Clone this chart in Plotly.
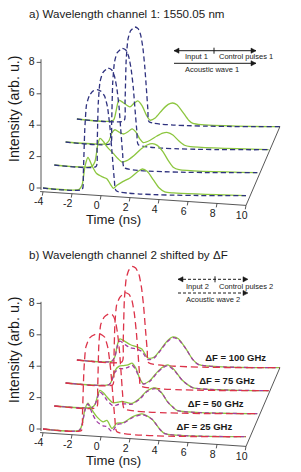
import plotly.graph_objects as go

# ---------------- data ----------------
time_ticks = [-4, -2, 0, 2, 4, 6, 8, 10]
intensity_ticks = [0, 2, 4, 6, 8]
df_labels = ["ΔF = 25 GHz", "ΔF = 50 GHz", "ΔF = 75 GHz", "ΔF = 100 GHz"]

# Panel a: control pulses (navy dashed), rows front -> back
ctrl_a_t = [
    [-4, -1.3, -1.22, -1.12, -1.0, -0.8, -0.55, -0.28, 0.0, 0.25, 0.45, 0.62, 0.78, 0.92, 1.05, 10],
    [-4, -1.12, -1.05, -0.97, -0.85, -0.65, -0.3, -0.05, 0.15, 0.32, 0.47, 0.6, 0.72, 0.82, 10],
    [-4, -0.9, -0.83, -0.75, -0.63, -0.45, -0.1, 0.15, 0.35, 0.52, 0.67, 0.8, 0.92, 1.02, 10],
    [-4, -0.75, -0.68, -0.6, -0.48, -0.3, 0.0, 0.22, 0.4, 0.55, 0.68, 0.8, 0.9, 0.98, 10],
]
ctrl_a_i = [
    [0, 0, 1.0, 3.8, 5.4, 6.0, 6.3, 6.4, 6.3, 6.0, 5.3, 4.0, 2.2, 0.7, 0, 0],
    [0, 0, 1.2, 4.0, 5.4, 6.0, 6.3, 6.2, 5.8, 5.0, 3.8, 2.2, 0.8, 0, 0],
    [0, 0, 1.2, 3.9, 5.2, 5.8, 6.1, 6.0, 5.6, 4.8, 3.6, 2.1, 0.8, 0, 0],
    [0, 0, 1.2, 3.9, 5.2, 5.75, 6.0, 5.9, 5.5, 4.7, 3.5, 2.0, 0.7, 0, 0],
]
# Panel a: signal (green solid)
sig_a_t = [
    [-4, -1.5, -1.3, -1.1, -0.9, -0.6, -0.3, 0.1, 0.4, 0.65, 0.85, 1.1, 1.5, 2.0, 2.5, 2.85, 3.2, 3.6, 4.0, 4.4, 5, 10],
    [-4, -1.4, -1.2, -1.0, -0.85, -0.6, -0.36, 0.05, 0.4, 0.67, 1.0, 1.5, 2.0, 2.4, 2.76, 3.1, 3.5, 3.9, 4.2, 4.6, 10],
    [-4, -1.2, -1.0, -0.8, -0.6, -0.3, 0.0, 0.3, 0.58, 0.85, 1.1, 1.35, 1.8, 2.3, 2.7, 3.05, 3.4, 3.8, 4.2, 4.6, 10],
    [-4, -1.5, -1.3, -1.1, -0.8, -0.35, -0.05, 0.2, 0.5, 0.8, 1.05, 1.4, 1.9, 2.3, 2.6, 2.9, 3.3, 3.7, 4.0, 10],
]
sig_a_i = [
    [0, 0, 0.3, 1.5, 2.05, 1.5, 1.05, 0.85, 0.75, 0.4, 0.15, 0.35, 0.6, 0.85, 1.25, 1.45, 1.3, 0.8, 0.3, 0.05, 0, 0],
    [0, 0, 0.3, 1.4, 1.8, 1.6, 1.28, 0.9, 0.55, 0.35, 0.45, 0.8, 1.25, 1.5, 1.6, 1.5, 1.1, 0.5, 0.15, 0, 0],
    [0, 0, 0.2, 0.7, 0.9, 0.75, 0.65, 0.8, 1.0, 0.8, 0.4, 0.15, 0.3, 0.6, 0.8, 0.85, 0.7, 0.35, 0.08, 0, 0],
    [0, 0, 0.6, 1.3, 1.15, 0.9, 1.15, 1.3, 1.0, 0.4, 0.1, 0.25, 0.8, 1.15, 1.25, 1.15, 0.7, 0.2, 0, 0],
]

# Panel b: control pulses (red dashed)
ctrl_b_t = [
    [-4, -1.35, -1.28, -1.18, -1.05, -0.8, -0.4, -0.07, 0.25, 0.48, 0.66, 0.82, 0.96, 1.1, 10],
    [-4, -1.08, -1.01, -0.93, -0.8, -0.55, -0.25, 0.0, 0.2, 0.36, 0.5, 0.62, 0.72, 0.82, 10],
    [-4, -0.75, -0.68, -0.6, -0.48, -0.25, 0.1, 0.38, 0.58, 0.74, 0.88, 1.0, 1.1, 1.18, 10],
    [-4, -0.88, -0.81, -0.73, -0.6, -0.42, -0.2, 0.05, 0.28, 0.45, 0.6, 0.73, 0.85, 0.95, 10],
]
ctrl_b_i = [
    [0, 0, 1.0, 3.8, 5.3, 5.9, 6.15, 6.2, 6.0, 5.3, 4.0, 2.3, 0.8, 0, 0],
    [0, 0, 1.2, 4.0, 5.3, 5.8, 6.0, 5.95, 5.6, 4.8, 3.6, 2.1, 0.8, 0, 0],
    [0, 0, 1.2, 3.9, 5.1, 5.6, 5.9, 5.8, 5.4, 4.6, 3.4, 2.0, 0.7, 0, 0],
    [0, 0, 1.2, 3.9, 5.3, 5.85, 6.1, 6.0, 5.6, 4.8, 3.6, 2.1, 0.8, 0, 0],
]
# Panel b: signal measured (green solid) and reference (purple dashed)
sig_b_t = [
    [-4, -1.5, -1.3, -1.1, -0.9, -0.6, -0.28, 0.14, 0.41, 0.76, 1.1, 1.52, 2.2, 2.83, 3.5, 4.07, 4.4, 10],
    [-4, -1.4, -1.19, -1.0, -0.85, -0.6, -0.37, 0.05, 0.4, 0.67, 1.0, 1.36, 1.9, 2.4, 2.94, 3.4, 3.8, 4.19, 4.5, 10],
    [-4, -1.0, -0.8, -0.6, -0.3, 0.0, 0.3, 0.58, 0.85, 1.1, 1.35, 1.8, 2.3, 2.7, 3.06, 3.5, 4.0, 4.4, 4.8, 10],
    [-4, -1.6, -1.38, -1.2, -1.03, -0.69, -0.3, 0.1, 0.48, 0.9, 1.3, 1.8, 2.2, 2.62, 3.0, 3.5, 4.0, 4.4, 10],
]
green_b_i = [
    [0, 0, 0.4, 1.4, 1.76, 1.3, 0.9, 0.6, 0.7, 0.2, 0.55, 0.6, 1.0, 1.2, 0.9, 0.25, 0, 0],
    [0, 0, 0.2, 0.8, 1.1, 0.95, 0.7, 0.35, 0.4, 0.45, 0.4, 0.35, 0.7, 1.2, 1.4, 1.1, 0.55, 0.2, 0, 0],
    [0, 0, 0.3, 0.9, 1.2, 1.25, 1.3, 1.43, 1.1, 0.5, 0.15, 0.35, 0.9, 1.25, 1.4, 1.1, 0.5, 0.2, 0, 0],
    [0, 0, 0.3, 1.1, 1.45, 1.3, 1.1, 1.0, 0.85, 0.3, 0.35, 0.9, 1.4, 1.7, 1.6, 1.0, 0.3, 0, 0],
]
purple_b_i = [
    [0, 0, 0.4, 1.3, 1.7, 1.1, 0.6, 0.35, 0.3, 0.0, 0.45, 0.55, 0.95, 1.15, 0.9, 0.25, 0, 0],
    [0, 0, 0.2, 0.7, 1.0, 0.8, 0.5, 0.15, 0.25, 0.3, 0.3, 0.3, 0.65, 1.15, 1.35, 1.1, 0.55, 0.2, 0, 0],
    [0, 0, 0.3, 0.8, 1.05, 1.05, 1.15, 1.3, 1.0, 0.45, 0.12, 0.3, 0.85, 1.2, 1.35, 1.05, 0.5, 0.2, 0, 0],
    [0, 0, 0.3, 1.0, 1.3, 1.1, 0.9, 0.85, 0.7, 0.2, 0.3, 0.85, 1.35, 1.65, 1.55, 1.0, 0.3, 0, 0],
]

# ---------------- styling / geometry ----------------
W, H = 301, 472
NAVY = "#2f327f"
GREEN = "#8cc63f"
RED = "#dc3349"
PURPLE = "#a23ea4"
INK = "#1a1a1a"
FONT = "Liberation Sans, Arial, sans-serif"

PX_NS = 14.5          # horizontal pixels per ns
PX_U = 15.7           # vertical pixels per intensity unit
DX = 11.3 / PX_NS     # depth offset per row (ns)
DY = 23.0 / PX_U      # depth offset per row (intensity)
SHEAR = 0.55 / PX_U   # baseline slope per ns
AX_Y0 = -0.24         # time-axis offset below row 0
AX_SLOPE = 0.062
YAX_T = -4 - 2.0 / PX_NS

X_RANGE = [-4 - 43 / PX_NS, -4 + (W - 43) / PX_NS]


def proj(t, v, k):
    return t + k * DX, v + k * DY - SHEAR * (t + 4)


def axis_y(t):
    return AX_Y0 - AX_SLOPE * (t + 4)


fig = go.Figure()

panels = [
    dict(xa="x", ya="y", ctrl_t=ctrl_a_t, ctrl_i=ctrl_a_i, ctrl_col=NAVY, ctrl_dash="5px,3px",
         sigs=[(sig_a_t, sig_a_i, GREEN, "solid")], labels=None, zero=188, ytop=8.2),
    dict(xa="x2", ya="y2", ctrl_t=ctrl_b_t, ctrl_i=ctrl_b_i, ctrl_col=RED, ctrl_dash="7px,4px",
         sigs=[(sig_b_t, green_b_i, GREEN, "solid"), (sig_b_t, purple_b_i, PURPLE, "4px,3px")],
         labels=df_labels, zero=429, ytop=8.1),
]


def line(fig, xs, ys, p, color, width=1.3, dash="solid", shape="linear", smoothing=0.7):
    fig.add_trace(go.Scatter(x=xs, y=ys, xaxis=p["xa"], yaxis=p["ya"], mode="lines",
                             line=dict(color=color, width=width, dash=dash, shape=shape,
                                       smoothing=smoothing),
                             hoverinfo="skip", showlegend=False))


def text(fig, xs, ys, labels, p, pos, size=10.5, color=INK, bold=False):
    fig.add_trace(go.Scatter(x=xs, y=ys, xaxis=p["xa"], yaxis=p["ya"], mode="text", text=labels,
                             textposition=pos, cliponaxis=False,
                             textfont=dict(size=size, color=color, family=FONT,
                                           weight="bold" if bold else "normal"),
                             hoverinfo="skip", showlegend=False))


for p in panels:
    for k in range(3, -1, -1):
        for (tt, ii, col, dash) in p["sigs"]:
            xs, ys = zip(*[proj(t, v, k) for t, v in zip(tt[k], ii[k])])
            line(fig, xs, ys, p, col, width=1.3, dash=dash, shape="spline")
        xs, ys = zip(*[proj(t, v, k) for t, v in zip(p["ctrl_t"][k], p["ctrl_i"][k])])
        line(fig, xs, ys, p, p["ctrl_col"], width=1.3, dash=p["ctrl_dash"], shape="spline",
             smoothing=0.5)
        if p["labels"]:
            lx, ly = proj(9.05, 0.55, k)
            text(fig, [lx], [ly], [p["labels"][k]], p, "middle left", size=9.5, bold=True)

    # y axis
    line(fig, [YAX_T, YAX_T], [-0.13, p["ytop"]], p, "#444", width=0.9)
    for v in intensity_ticks:
        line(fig, [YAX_T - 0.3, YAX_T], [v, v], p, "#444", width=0.9)
    text(fig, [YAX_T - 0.45] * len(intensity_ticks), intensity_ticks,
         [str(v) for v in intensity_ticks], p, "middle left", size=10.5)
    # slanted time axis
    line(fig, [-4.2, 10], [axis_y(-4.2), axis_y(10)], p, "#444", width=0.9)
    for t in time_ticks:
        line(fig, [t, t - 0.05], [axis_y(t), axis_y(t) - 0.25], p, "#444", width=0.9)
    text(fig, [t - 0.3 for t in time_ticks], [axis_y(t) - 0.68 for t in time_ticks],
         [str(t) for t in time_ticks], p, "middle center", size=10.5)
    # depth edge at t = 10
    ex, ey = proj(10, 0, 3)
    line(fig, [10, ex], [axis_y(10), ey], p, "#444", width=0.9)

# ---------------- layout ----------------
ax_common = dict(visible=False, fixedrange=True)
fig.update_layout(
    width=W, height=H, margin=dict(l=0, r=0, t=0, b=0),
    paper_bgcolor="white", plot_bgcolor="rgba(0,0,0,0)",
    font=dict(family=FONT, color=INK),
    xaxis=dict(domain=[0, 1], range=X_RANGE, anchor="y", **ax_common),
    yaxis=dict(domain=[0.5, 1], range=[(188 - 236) / PX_U, 188 / PX_U], anchor="x", **ax_common),
    xaxis2=dict(domain=[0, 1], range=X_RANGE, anchor="y2", **ax_common),
    yaxis2=dict(domain=[0, 0.5], range=[(429 - 472) / PX_U, (429 - 236) / PX_U], anchor="x2", **ax_common),
    showlegend=False,
)


def P(x, y):
    return x / W, 1 - y / H


annotations = []
shapes = []


def ann(x, y, s, size, xanchor="left", angle=0):
    px, py = P(x, y)
    annotations.append(dict(x=px, y=py, xref="paper", yref="paper", text=s, showarrow=False,
                            xanchor=xanchor, yanchor="middle", textangle=angle,
                            font=dict(size=size, family=FONT, color=INK)))


for off, title, tag in [(0, "a) Wavelength channel 1: 1550.05 nm", "1"),
                        (241, "b) Wavelength channel 2 shifted by ΔF", "2")]:
    ann(27, 13 + off, title, 11.6)
    ann(14, 109 + off, "Intensity (arb. u.)", 14.2, xanchor="center", angle=-90)
    ann(113, 219 + off, "Time (ns)", 13.2, xanchor="center")

# legends
def arrow_line(x0, x1, y, dash, left_head):
    ax0, ay = P(x0, y)
    ax1, _ = P(x1, y)
    shapes.append(dict(type="line", xref="paper", yref="paper", x0=ax0, x1=ax1, y0=ay, y1=ay,
                       line=dict(color=INK, width=1, dash=dash)))
    heads = [(x1, 1)] + ([(x0, -1)] if left_head else [])
    for hx, d in heads:
        a = P(hx, y)
        b = P(hx - d * 5, y - 2.6)
        c = P(hx - d * 5, y + 2.6)
        shapes.append(dict(type="path", xref="paper", yref="paper",
                           path=f"M {a[0]},{a[1]} L {b[0]},{b[1]} L {c[0]},{c[1]} Z",
                           fillcolor=INK, line=dict(color=INK, width=0.5)))


def tick(x, y):
    a = P(x, y - 3)
    b = P(x, y + 3)
    shapes.append(dict(type="line", xref="paper", yref="paper", x0=a[0], x1=b[0], y0=a[1], y1=b[1],
                       line=dict(color=INK, width=1)))


arrow_line(174, 256, 50.7, "solid", True)
tick(214, 50.7)
arrow_line(174, 256, 63.3, "solid", False)
ann(183, 56.9, "Input 1", 7.5)
ann(217, 56.9, "Control pulses 1", 7.5)
ann(183, 69.5, "Acoustic wave 1", 7.5)

arrow_line(178, 248, 279.3, "3px,2px", True)
tick(215, 279.3)
arrow_line(178, 248, 293, "3px,2px", False)
ann(184, 286, "Input 2", 7.5)
ann(217, 286, "Control pulses 2", 7.5)
ann(184, 299.5, "Acoustic wave 2", 7.5)

fig.update_layout(annotations=annotations, shapes=shapes)
fig.write_html("out.html", config={"displayModeBar": False, "staticPlot": True},
               post_script="document.body.style.margin='0';document.body.style.padding='0';")
